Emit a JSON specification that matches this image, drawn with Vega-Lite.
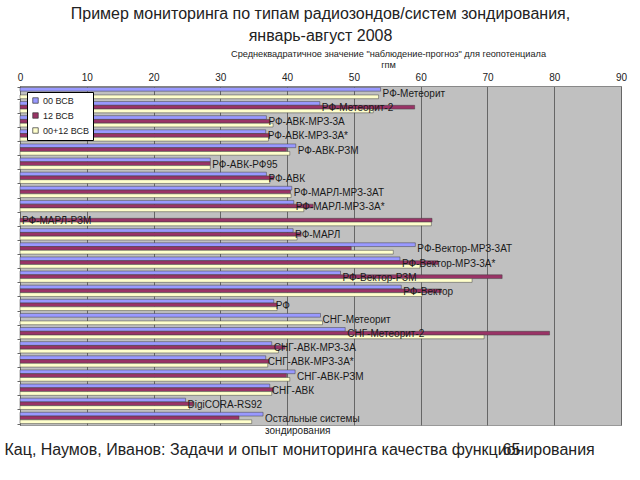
{
  "$schema": "https://vega.github.io/schema/vega-lite/v6.json",
  "width": 601,
  "height": 339,
  "autosize": {"type": "none"},
  "padding": {"left": 20, "top": 86, "right": 19, "bottom": 55},
  "background": "white",
  "title": {
    "text": ["Пример мониторинга по типам радиозондов/систем зондирования,", "январь-август 2008"],
    "font": "Liberation Sans",
    "fontSize": 16,
    "fontWeight": "normal",
    "color": "#222",
    "anchor": "middle",
    "lineHeight": 22,
    "offset": 5
  },
  "datasets": {
    "bars": [
      {"cat": "РФ-Метеорит", "series": "00 ВСВ", "value": 54.0},
      {"cat": "РФ-Метеорит", "series": "00+12 ВСВ", "value": 53.7},
      {"cat": "РФ-Метеорит-2", "series": "00 ВСВ", "value": 44.9},
      {"cat": "РФ-Метеорит-2", "series": "12 ВСВ", "value": 59.1},
      {"cat": "РФ-Метеорит-2", "series": "00+12 ВСВ", "value": 52.9},
      {"cat": "РФ-АВК-МРЗ-3А", "series": "00 ВСВ", "value": 36.9},
      {"cat": "РФ-АВК-МРЗ-3А", "series": "12 ВСВ", "value": 37.4},
      {"cat": "РФ-АВК-МРЗ-3А", "series": "00+12 ВСВ", "value": 37.9},
      {"cat": "РФ-АВК-МРЗ-3А*", "series": "00 ВСВ", "value": 36.8},
      {"cat": "РФ-АВК-МРЗ-3А*", "series": "12 ВСВ", "value": 37.4},
      {"cat": "РФ-АВК-МРЗ-3А*", "series": "00+12 ВСВ", "value": 37.2},
      {"cat": "РФ-АВК-РЗМ", "series": "00 ВСВ", "value": 41.3},
      {"cat": "РФ-АВК-РЗМ", "series": "12 ВСВ", "value": 39.9},
      {"cat": "РФ-АВК-РЗМ", "series": "00+12 ВСВ", "value": 40.4},
      {"cat": "РФ-АВК-РФ95", "series": "00 ВСВ", "value": 28.5},
      {"cat": "РФ-АВК-РФ95", "series": "12 ВСВ", "value": 28.5},
      {"cat": "РФ-АВК-РФ95", "series": "00+12 ВСВ", "value": 28.5},
      {"cat": "РФ-АВК", "series": "00 ВСВ", "value": 36.9},
      {"cat": "РФ-АВК", "series": "12 ВСВ", "value": 38.0},
      {"cat": "РФ-АВК", "series": "00+12 ВСВ", "value": 37.4},
      {"cat": "РФ-МАРЛ-МРЗ-3АТ", "series": "00 ВСВ", "value": 40.7},
      {"cat": "РФ-МАРЛ-МРЗ-3АТ", "series": "12 ВСВ", "value": 40.5},
      {"cat": "РФ-МАРЛ-МРЗ-3АТ", "series": "00+12 ВСВ", "value": 40.6},
      {"cat": "РФ-МАРЛ-МРЗ-3А*", "series": "00 ВСВ", "value": 41.0},
      {"cat": "РФ-МАРЛ-МРЗ-3А*", "series": "12 ВСВ", "value": 43.9},
      {"cat": "РФ-МАРЛ-МРЗ-3А*", "series": "00+12 ВСВ", "value": 42.5},
      {"cat": "РФ-МАРЛ-РЗМ", "series": "12 ВСВ", "value": 61.7},
      {"cat": "РФ-МАРЛ-РЗМ", "series": "00+12 ВСВ", "value": 61.6},
      {"cat": "РФ-МАРЛ", "series": "00 ВСВ", "value": 40.9},
      {"cat": "РФ-МАРЛ", "series": "12 ВСВ", "value": 42.1},
      {"cat": "РФ-МАРЛ", "series": "00+12 ВСВ", "value": 41.5},
      {"cat": "РФ-Вектор-МРЗ-3АТ", "series": "00 ВСВ", "value": 59.2},
      {"cat": "РФ-Вектор-МРЗ-3АТ", "series": "12 ВСВ", "value": 49.6},
      {"cat": "РФ-Вектор-МРЗ-3АТ", "series": "00+12 ВСВ", "value": 55.9},
      {"cat": "РФ-Вектор-МРЗ-3А*", "series": "00 ВСВ", "value": 56.9},
      {"cat": "РФ-Вектор-МРЗ-3А*", "series": "12 ВСВ", "value": 62.6},
      {"cat": "РФ-Вектор-МРЗ-3А*", "series": "00+12 ВСВ", "value": 59.9},
      {"cat": "РФ-Вектор-РЗМ", "series": "00 ВСВ", "value": 48.0},
      {"cat": "РФ-Вектор-РЗМ", "series": "12 ВСВ", "value": 72.2},
      {"cat": "РФ-Вектор-РЗМ", "series": "00+12 ВСВ", "value": 67.7},
      {"cat": "РФ-Вектор", "series": "00 ВСВ", "value": 57.1},
      {"cat": "РФ-Вектор", "series": "12 ВСВ", "value": 63.1},
      {"cat": "РФ-Вектор", "series": "00+12 ВСВ", "value": 60.2},
      {"cat": "РФ", "series": "00 ВСВ", "value": 38.0},
      {"cat": "РФ", "series": "12 ВСВ", "value": 38.5},
      {"cat": "РФ", "series": "00+12 ВСВ", "value": 38.5},
      {"cat": "СНГ-Метеорит", "series": "00 ВСВ", "value": 45.0},
      {"cat": "СНГ-Метеорит", "series": "00+12 ВСВ", "value": 45.3},
      {"cat": "СНГ-Метеорит-2", "series": "00 ВСВ", "value": 48.7},
      {"cat": "СНГ-Метеорит-2", "series": "12 ВСВ", "value": 79.3},
      {"cat": "СНГ-Метеорит-2", "series": "00+12 ВСВ", "value": 69.5},
      {"cat": "СНГ-АВК-МРЗ-3А", "series": "00 ВСВ", "value": 37.7},
      {"cat": "СНГ-АВК-МРЗ-3А", "series": "12 ВСВ", "value": 39.7},
      {"cat": "СНГ-АВК-МРЗ-3А", "series": "00+12 ВСВ", "value": 38.7},
      {"cat": "СНГ-АВК-МРЗ-3А*", "series": "00 ВСВ", "value": 36.8},
      {"cat": "СНГ-АВК-МРЗ-3А*", "series": "12 ВСВ", "value": 37.3},
      {"cat": "СНГ-АВК-МРЗ-3А*", "series": "00+12 ВСВ", "value": 37.1},
      {"cat": "СНГ-АВК-РЗМ", "series": "00 ВСВ", "value": 41.2},
      {"cat": "СНГ-АВК-РЗМ", "series": "12 ВСВ", "value": 39.9},
      {"cat": "СНГ-АВК-РЗМ", "series": "00+12 ВСВ", "value": 40.4},
      {"cat": "СНГ-АВК", "series": "00 ВСВ", "value": 37.4},
      {"cat": "СНГ-АВК", "series": "12 ВСВ", "value": 38.0},
      {"cat": "СНГ-АВК", "series": "00+12 ВСВ", "value": 37.7},
      {"cat": "DigiCORA-RS92", "series": "00 ВСВ", "value": 24.8},
      {"cat": "DigiCORA-RS92", "series": "12 ВСВ", "value": 25.9},
      {"cat": "DigiCORA-RS92", "series": "00+12 ВСВ", "value": 25.4},
      {"cat": "Остальные системы зондирования", "series": "00 ВСВ", "value": 36.4},
      {"cat": "Остальные системы зондирования", "series": "12 ВСВ", "value": 32.8},
      {"cat": "Остальные системы зондирования", "series": "00+12 ВСВ", "value": 34.7}
    ],
    "labels": [
      {"cat": "РФ-Метеорит", "label": "РФ-Метеорит", "pos": 54.0},
      {"cat": "РФ-Метеорит-2", "label": "РФ-Метеорит-2", "pos": 44.9},
      {"cat": "РФ-АВК-МРЗ-3А", "label": "РФ-АВК-МРЗ-3А", "pos": 36.9},
      {"cat": "РФ-АВК-МРЗ-3А*", "label": "РФ-АВК-МРЗ-3А*", "pos": 36.8},
      {"cat": "РФ-АВК-РЗМ", "label": "РФ-АВК-РЗМ", "pos": 41.3},
      {"cat": "РФ-АВК-РФ95", "label": "РФ-АВК-РФ95", "pos": 28.5},
      {"cat": "РФ-АВК", "label": "РФ-АВК", "pos": 36.9},
      {"cat": "РФ-МАРЛ-МРЗ-3АТ", "label": "РФ-МАРЛ-МРЗ-3АТ", "pos": 40.7},
      {"cat": "РФ-МАРЛ-МРЗ-3А*", "label": "РФ-МАРЛ-МРЗ-3А*", "pos": 41.0},
      {"cat": "РФ-МАРЛ-РЗМ", "label": "РФ-МАРЛ-РЗМ", "pos": 0},
      {"cat": "РФ-МАРЛ", "label": "РФ-МАРЛ", "pos": 40.9},
      {"cat": "РФ-Вектор-МРЗ-3АТ", "label": "РФ-Вектор-МРЗ-3АТ", "pos": 59.2},
      {"cat": "РФ-Вектор-МРЗ-3А*", "label": "РФ-Вектор-МРЗ-3А*", "pos": 56.9},
      {"cat": "РФ-Вектор-РЗМ", "label": "РФ-Вектор-РЗМ", "pos": 48.0},
      {"cat": "РФ-Вектор", "label": "РФ-Вектор", "pos": 57.1},
      {"cat": "РФ", "label": "РФ", "pos": 38.0},
      {"cat": "СНГ-Метеорит", "label": "СНГ-Метеорит", "pos": 45.0},
      {"cat": "СНГ-Метеорит-2", "label": "СНГ-Метеорит-2", "pos": 48.7},
      {"cat": "СНГ-АВК-МРЗ-3А", "label": "СНГ-АВК-МРЗ-3А", "pos": 37.7},
      {"cat": "СНГ-АВК-МРЗ-3А*", "label": "СНГ-АВК-МРЗ-3А*", "pos": 36.8},
      {"cat": "СНГ-АВК-РЗМ", "label": "СНГ-АВК-РЗМ", "pos": 41.2},
      {"cat": "СНГ-АВК", "label": "СНГ-АВК", "pos": 37.4},
      {"cat": "DigiCORA-RS92", "label": "DigiCORA-RS92", "pos": 24.8},
      {"cat": "Остальные системы зондирования", "label": "Остальные системы\nзондирования", "pos": 36.4}
    ]
  },
  "resolve": {"axis": {"x": "independent"}},
  "layer": [
    {
      "data": {"name": "bars"},
      "mark": {"type": "bar", "stroke": "#404040", "strokeWidth": 0.5},
      "encoding": {
        "y": {
          "field": "cat",
          "type": "nominal",
          "sort": null,
          "scale": {
            "domain": ["РФ-Метеорит", "РФ-Метеорит-2", "РФ-АВК-МРЗ-3А", "РФ-АВК-МРЗ-3А*", "РФ-АВК-РЗМ", "РФ-АВК-РФ95", "РФ-АВК", "РФ-МАРЛ-МРЗ-3АТ", "РФ-МАРЛ-МРЗ-3А*", "РФ-МАРЛ-РЗМ", "РФ-МАРЛ", "РФ-Вектор-МРЗ-3АТ", "РФ-Вектор-МРЗ-3А*", "РФ-Вектор-РЗМ", "РФ-Вектор", "РФ", "СНГ-Метеорит", "СНГ-Метеорит-2", "СНГ-АВК-МРЗ-3А", "СНГ-АВК-МРЗ-3А*", "СНГ-АВК-РЗМ", "СНГ-АВК", "DigiCORA-RS92", "Остальные системы зондирования"],
            "paddingInner": 0.2,
            "paddingOuter": 0.1
          },
          "axis": {
            "labels": false,
            "ticks": true,
            "tickBand": "extent",
            "tickSize": 3,
            "tickColor": "#666",
            "domainColor": "#666",
            "grid": false,
            "title": "Кац, Наумов, Иванов: Задачи и опыт мониторинга качества функционирования",
            "titleAngle": 0,
            "titleAlign": "left",
            "titleBaseline": "alphabetic",
            "titleX": -16,
            "titleY": 368,
            "titleFont": "Liberation Sans",
            "titleFontSize": 16,
            "titleFontWeight": "normal",
            "titleColor": "#222"
          }
        },
        "yOffset": {
          "field": "series",
          "type": "nominal",
          "sort": ["00 ВСВ", "12 ВСВ", "00+12 ВСВ"],
          "scale": {"paddingInner": 0, "paddingOuter": 0}
        },
        "x": {
          "field": "value",
          "type": "quantitative",
          "scale": {"domain": [0, 90], "nice": false},
          "axis": {
            "orient": "top",
            "values": [0, 10, 20, 30, 40, 50, 60, 70, 80, 90],
            "ticks": false,
            "labelPadding": 4,
            "labelFont": "Liberation Sans",
            "labelFontSize": 10,
            "labelColor": "#222",
            "labelFlush": false,
            "domainColor": "#888",
            "grid": true,
            "gridColor": "#666",
            "gridWidth": 1,
            "title": ["Среднеквадратичное значение \"наблюдение-прогноз\" для геопотенциала", "гпм"],
            "titleFont": "Liberation Sans",
            "titleFontSize": 9.2,
            "titleFontWeight": "normal",
            "titleColor": "#222",
            "titleLineHeight": 11,
            "titleX": 368,
            "titlePadding": 3
          }
        },
        "color": {
          "field": "series",
          "type": "nominal",
          "sort": ["00 ВСВ", "12 ВСВ", "00+12 ВСВ"],
          "scale": {"domain": ["00 ВСВ", "12 ВСВ", "00+12 ВСВ"], "range": ["#9999ff", "#993366", "#ffffcc"]},
          "legend": {
            "orient": "none",
            "legendX": 7,
            "legendY": 6,
            "title": null,
            "fillColor": "white",
            "strokeColor": "black",
            "padding": 4,
            "symbolType": "square",
            "symbolSize": 30,
            "symbolStrokeColor": "#333",
            "symbolStrokeWidth": 0.7,
            "labelFont": "Liberation Sans",
            "labelFontSize": 9,
            "labelOffset": 3,
            "labelColor": "#222",
            "rowPadding": 5
          }
        }
      }
    },
    {
      "data": {"name": "labels"},
      "mark": {"type": "text", "align": "left", "baseline": "middle", "dx": 2, "dy": 1, "font": "Liberation Sans", "fontSize": 10, "color": "#1a1a1a", "lineBreak": "\n", "lineHeight": 12},
      "encoding": {
        "y": {"field": "cat", "type": "nominal", "sort": null},
        "x": {
          "field": "pos",
          "type": "quantitative",
          "axis": {
            "orient": "bottom",
            "labels": false,
            "ticks": false,
            "domain": false,
            "grid": false,
            "title": "65",
            "titleAngle": 0,
            "titleAlign": "left",
            "titleBaseline": "alphabetic",
            "titleX": 482,
            "titleY": 29,
            "titleFont": "Liberation Sans",
            "titleFontSize": 16,
            "titleFontWeight": "normal",
            "titleColor": "#222"
          }
        },
        "text": {"field": "label"}
      }
    }
  ],
  "config": {
    "view": {"fill": "#c0c0c0", "stroke": "#999"},
    "font": "Liberation Sans"
  }
}
